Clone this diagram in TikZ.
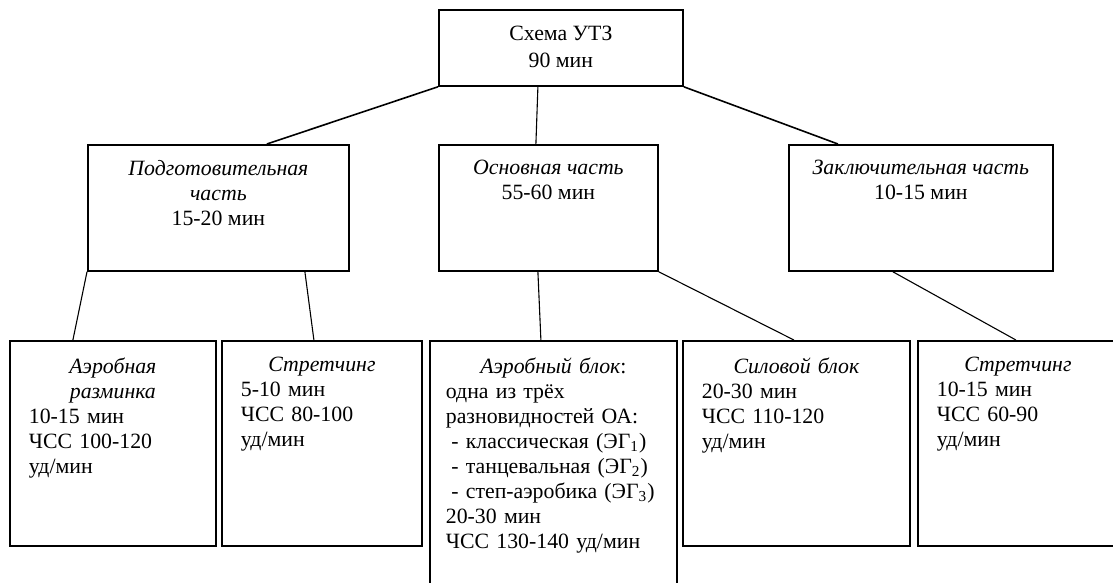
\documentclass[tikz,border=0pt]{standalone}
\usepackage{fontspec}
\setmainfont{Liberation Serif}
\newcommand{\ctitle}[1]{\noindent\hbox to\hsize{\hss\itshape #1\hss}}
\tikzset{
  frame/.style={draw, line width=0.9pt, inner sep=0pt, anchor=north west},
  head/.style={anchor=north, inner sep=0pt, align=center,
    font=\fontsize{10.9}{12.5}\selectfont},
  body/.style={anchor=north, inner sep=0pt, align=left,
    font=\fontsize{10.9}{12.5}\selectfont},
  link/.style={line width=0.8pt},
  thinlink/.style={line width=0.55pt}
}

\begin{document}
\begin{tikzpicture}[x=0.5pt, y=-0.5pt]
  \path[use as bounding box, clip] (0,0) rectangle (1113,583);

  % frames
  \node[frame, minimum width=122pt, minimum height=38pt] (utz) at (438,9) {};
  \node[frame, minimum width=130.5pt, minimum height=63pt] (pod) at (87,144) {};
  \node[frame, minimum width=109.5pt, minimum height=63pt] (osn) at (438,144) {};
  \node[frame, minimum width=132pt, minimum height=63pt] (zak) at (788,144) {};
  \node[frame, minimum width=103pt, minimum height=102.5pt] (razm) at (9,340) {};
  \node[frame, minimum width=100pt, minimum height=102.5pt] (str1) at (221,340) {};
  \node[frame, minimum width=123.5pt, minimum height=140pt] (aer) at (429,340) {};
  \node[frame, minimum width=113.5pt, minimum height=102.5pt] (sil) at (682,340) {};
  \node[frame, minimum width=100pt, minimum height=102.5pt] (str2) at (917,340) {};

  % texts
  \node[head] (utz-t) at ([yshift=-8.5pt]utz.north) {Схема УТЗ\\[1pt]90 мин};
  \node[head] (pod-t) at ([yshift=-8pt]pod.north)
    {\textit{Подготовительная}\\\textit{часть}\\15-20 мин};
  \node[head] (osn-t) at ([yshift=-8pt]osn.north)
    {\textit{Основная часть}\\55-60 мин};
  \node[head] (zak-t) at ([yshift=-8pt]zak.north)
    {\textit{Заключительная часть}\\10-15 мин};

  \node[body, text width=84pt] (razm-t) at ([yshift=-8.5pt]razm.north)
    {\ctitle{Аэробная}\\\ctitle{разминка}\\10-15 мин\\ЧСС 100-120\\уд/мин};
  \node[body, text width=81pt] (str1-t) at ([yshift=-8.5pt]str1.north)
    {\ctitle{Стретчинг}\\5-10 мин\\ЧСС 80-100\\уд/мин};
  \node[body, text width=107.5pt] (aer-t) at ([yshift=-8.5pt]aer.north)
    {\ctitle{Аэробный блок\upshape:}\\одна из трёх\\разновидностей ОА:\\
     \hspace*{0.25em}- классическая (ЭГ\textsubscript{1})\\
     \hspace*{0.25em}- танцевальная (ЭГ\textsubscript{2})\\
     \hspace*{0.25em}- степ-аэробика (ЭГ\textsubscript{3})\\
     20-30 мин\\ЧСС 130-140 уд/мин};
  \node[body, text width=94.5pt] (sil-t) at ([yshift=-8.5pt]sil.north)
    {\ctitle{Силовой блок}\\20-30 мин\\ЧСС 110-120\\уд/мин};
  \node[body, text width=81pt] (str2-t) at ([yshift=-8.5pt]str2.north)
    {\ctitle{Стретчинг}\\10-15 мин\\ЧСС 60-90\\уд/мин};

  % links
  \draw[link] (utz.south west) -- ([xshift=24.25pt]pod.north);
  \draw[thinlink] ([xshift=-11.5pt]utz.south) -- ([xshift=-6.25pt]osn.north);
  \draw[link] (utz.south east) -- ([xshift=-41.5pt]zak.north);
  \draw[thinlink] (pod.south west) -- ([xshift=-20pt]razm.north);
  \draw[thinlink] ([xshift=43.25pt]pod.south) -- ([xshift=-4pt]str1.north);
  \draw[thinlink] ([xshift=-5.25pt]osn.south) -- ([xshift=-6.25pt]aer.north);
  \draw[thinlink] (osn.south east) -- ([xshift=-1.25pt]sil.north);
  \draw[thinlink] ([xshift=-14pt]zak.south) -- ([xshift=-1pt]str2.north);
\end{tikzpicture}
\end{document}
